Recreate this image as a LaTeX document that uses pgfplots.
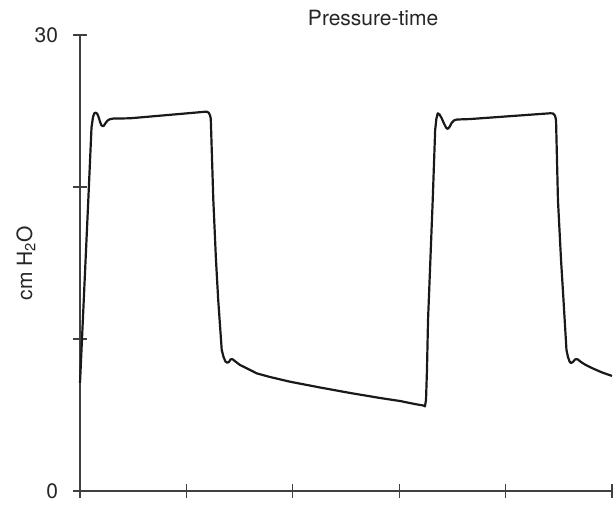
\documentclass[border=0pt]{standalone}
\usepackage{pgfplots}
\pgfplotsset{compat=1.18}
\usepackage{fontspec}
\setmainfont{TeX Gyre Heros}

\pgfplotstableread{
x y
0 7.11
0.078 19.14
0.108 23.9
0.122 24.6
0.135 24.85
0.148 24.89
0.162 24.82
0.174 24.62
0.188 24.3
0.200 24.08
0.212 24.0
0.224 24.03
0.240 24.2
0.260 24.38
0.282 24.46
0.310 24.5
0.470 24.52
1.175 24.95
1.195 24.95
1.210 24.88
1.222 24.72
1.229 24.5
1.253 19.14
1.278 15.2
1.299 12.57
1.332 9.28
1.349 8.82
1.367 8.52
1.384 8.44
1.400 8.49
1.414 8.65
1.426 8.68
1.438 8.65
1.466 8.49
1.504 8.29
1.579 8.03
1.661 7.74
1.786 7.5
1.974 7.19
2.256 6.81
2.538 6.45
2.820 6.12
3.008 5.92
3.148 5.72
3.224 5.63
3.242 5.57
3.252 5.99
3.261 7.96
3.271 11.25
3.315 19.14
3.338 23.75
3.349 24.47
3.362 24.85
3.379 24.77
3.398 24.54
3.421 24.18
3.440 23.91
3.456 23.82
3.473 23.95
3.492 24.21
3.515 24.38
3.543 24.44
3.665 24.47
4.417 24.85
4.445 24.84
4.464 24.70
4.474 24.41
4.492 19.14
4.521 15.2
4.544 12.57
4.572 9.28
4.586 8.82
4.601 8.52
4.615 8.42
4.633 8.49
4.652 8.65
4.666 8.68
4.680 8.65
4.708 8.49
4.746 8.32
4.821 8.06
4.906 7.80
5.0 7.57
}\pressure

\begin{document}
\begin{tikzpicture}
\begin{axis}[
    name=ax,
    scale only axis,
    width=266pt, height=228pt,
    xmin=0, xmax=5, ymin=0, ymax=30,
    axis x line=bottom, axis y line=left,
    axis line style={-, black!75, line width=0.65pt},
    tick style={black!75, line width=0.65pt},
    tick align=center,
    major tick length=7pt,
    xtick={0,1,2,3,4,5}, xticklabels={},
    ytick={0,10,20,30}, yticklabels={0,,,30},
    yticklabel style={anchor=east, xshift=-4pt},
    ticklabel style={font=\fontsize{10.5}{12}\selectfont, text=black!85},
    /pgf/number format/assume math mode=true,
    ylabel={cm H\textsubscript{2}O},
    ylabel style={at={(axis description cs:-0.0902,0.5)}, anchor=base,
        font=\fontsize{10.5}{12}\selectfont, text=black!85},
    title={Pressure-time},
    every axis title shift=0pt,
    title style={at={(axis description cs:0.551,1.0204)}, anchor=base,
        font=\fontsize{10.5}{12}\selectfont, text=black!85},
    clip=false,
]
\addplot[black!90, line width=1.1pt, line join=round, no marks] table[x=x, y=y] {\pressure};
\end{axis}
\pgfresetboundingbox
\path (ax.south west) ++(-40pt,-12pt) rectangle ++(307.5pt,257.5pt);
\end{tikzpicture}
\end{document}
